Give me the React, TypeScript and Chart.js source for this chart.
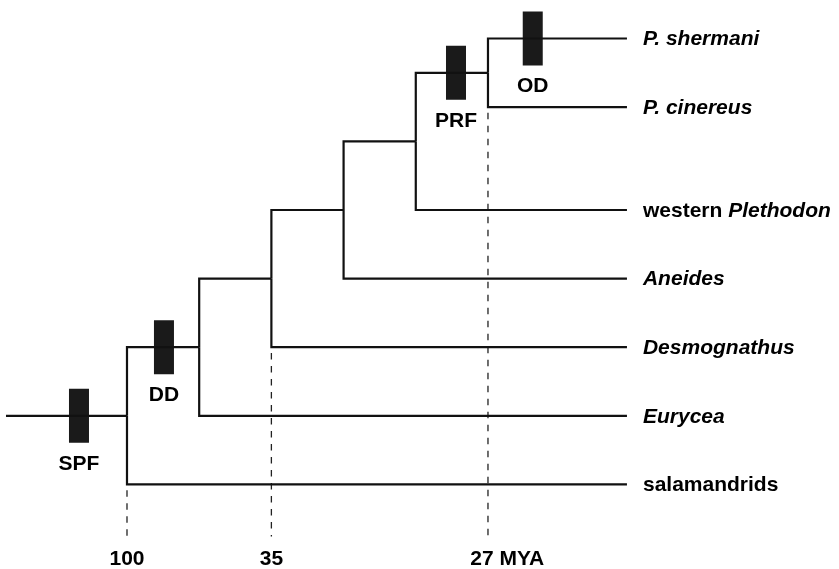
import React, { useEffect, useRef } from 'react';
import { Chart, registerables } from 'chart.js';

Chart.register(...registerables);

// ---- Data ----
const taxa = ['P. shermani', 'P. cinereus', 'western Plethodon', 'Aneides', 'Desmognathus', 'Eurycea', 'salamandrids'];
// which words of each taxon name are italic (genus / species names)
const taxonItalicWords = [['P.', 'shermani'], ['P.', 'cinereus'], ['Plethodon'], ['Aneides'], ['Desmognathus'], ['Eurycea'], []];
// vertical row of each tip (top to bottom)
const taxonRows = [0, 1, 2.5, 3.5, 4.5, 5.5, 6.5];

// internal nodes n0..n5 (ladder tree), depth level along the x axis
const nodeLevels = [0, 1, 2, 3, 4, 5];
const nodeChildren = [
  ['n1', 't6'],
  ['n2', 't5'],
  ['n3', 't4'],
  ['n4', 't3'],
  ['n5', 't2'],
  ['t0', 't1'],
];
const tipLevel = 6.925;
const rootStemStart = -1.676;

// character events marked as black bars on branches
const eventNames = ['SPF', 'DD', 'PRF', 'OD'];
const eventBranch = ['n0', 'n1', 'n5', 't0'];
const eventLevels = [-0.665, 0.512, 4.557, 5.62];

// time calibrations (dashed lines below nodes)
const timeNodes = ['n0', 'n2', 'n5'];
const timeLabels = ['100', '35', '27'];
const timeUnit = 'MYA';

const FONT = '"Liberation Sans", Arial, Helvetica, sans-serif';

function levelOf(id: string): number {
  const i = parseInt(id.slice(1), 10);
  return id[0] === 't' ? tipLevel : nodeLevels[i];
}
function rowOf(id: string): number {
  const i = parseInt(id.slice(1), 10);
  if (id[0] === 't') return taxonRows[i];
  const [a, b] = nodeChildren[i];
  return (rowOf(a) + rowOf(b)) / 2;
}
function lowestChildRow(id: string): number {
  const i = parseInt(id.slice(1), 10);
  const [a, b] = nodeChildren[i];
  return Math.max(rowOf(a), rowOf(b));
}

export default function App() {
  const ref = useRef<HTMLCanvasElement>(null);

  useEffect(() => {
    if (!ref.current) return;
    const lineColor = '#111111';
    const datasets: any[] = [];
    const base = { showLine: true, pointRadius: 0, fill: false, tension: 0, borderJoinStyle: 'miter', borderCapStyle: 'butt' };

    // root stem
    datasets.push({
      ...base,
      data: [{ x: rootStemStart, y: rowOf('n0') }, { x: levelOf('n0'), y: rowOf('n0') }],
      borderColor: lineColor,
      borderWidth: 2.2,
    });
    // branches (elbows)
    nodeChildren.forEach((children, i) => {
      const id = 'n' + i;
      children.forEach((c) => {
        datasets.push({
          ...base,
          data: [
            { x: levelOf(id), y: rowOf(id) },
            { x: levelOf(id), y: rowOf(c) },
            { x: levelOf(c), y: rowOf(c) },
          ],
          borderColor: lineColor,
          borderWidth: 2.2,
        });
      });
    });
    // dashed time lines
    timeNodes.forEach((id) => {
      datasets.push({
        ...base,
        data: [{ x: levelOf(id), y: lowestChildRow(id) + 0.04 }, { x: levelOf(id), y: 7.26 }],
        borderColor: '#222222',
        borderWidth: 1.3,
        borderDash: [6.5, 6.5],
        borderDashOffset: -3,
      });
    });
    // event bars
    eventNames.forEach((_, i) => {
      const r = rowOf(eventBranch[i]);
      datasets.push({
        ...base,
        data: [{ x: eventLevels[i], y: r - 0.394 }, { x: eventLevels[i], y: r + 0.394 }],
        borderColor: '#1a1a1a',
        borderWidth: 20,
      });
    });

    const textPlugin = {
      id: 'treeText',
      afterDatasetsDraw(chart: any) {
        const ctx = chart.ctx as CanvasRenderingContext2D;
        const xs = chart.scales.x;
        const ys = chart.scales.y;
        ctx.save();
        ctx.fillStyle = '#000';
        ctx.textBaseline = 'middle';
        const bold = `bold 21px ${FONT}`;
        const boldItalic = `italic bold 21px ${FONT}`;

        // taxon labels
        taxa.forEach((name, i) => {
          let x = xs.getPixelForValue(tipLevel) + 16;
          const y = ys.getPixelForValue(taxonRows[i]) + 1;
          ctx.textAlign = 'left';
          const words = name.split(' ');
          words.forEach((w, k) => {
            const txt = k < words.length - 1 ? w + ' ' : w;
            ctx.font = taxonItalicWords[i].includes(w) ? boldItalic : bold;
            ctx.fillText(txt, x, y);
            x += ctx.measureText(txt).width;
          });
        });

        // event labels
        ctx.font = bold;
        ctx.textAlign = 'center';
        eventNames.forEach((n, i) => {
          const r = rowOf(eventBranch[i]);
          ctx.fillText(n, xs.getPixelForValue(eventLevels[i]), ys.getPixelForValue(r + 0.7));
        });

        // time labels
        timeNodes.forEach((id, i) => {
          const x = xs.getPixelForValue(levelOf(id));
          const y = ys.getPixelForValue(7.59);
          if (i === timeNodes.length - 1) {
            const full = timeLabels[i] + ' ' + timeUnit;
            const numW = ctx.measureText(timeLabels[i]).width;
            ctx.textAlign = 'left';
            ctx.fillText(full, x - numW / 2 - 6, y);
          } else {
            ctx.textAlign = 'center';
            ctx.fillText(timeLabels[i], x, y);
          }
        });
        ctx.restore();
      },
    };

    const chart = new Chart(ref.current, {
      type: 'scatter',
      data: { datasets },
      options: {
        animation: false,
        responsive: true,
        maintainAspectRatio: false,
        layout: { padding: 0 },
        plugins: { legend: { display: false }, tooltip: { enabled: false } },
        scales: {
          x: { type: 'linear', min: -1.759, max: 9.862, display: false },
          y: { type: 'linear', min: -0.561, max: 7.733, reverse: true, display: false },
        },
      },
      plugins: [textPlugin],
    } as any);
    return () => chart.destroy();
  }, []);

  return (
    <div style={{ position: 'fixed', left: 0, top: 0, width: 839, height: 569, background: '#fff' }}>
      <canvas ref={ref} />
    </div>
  );
}
